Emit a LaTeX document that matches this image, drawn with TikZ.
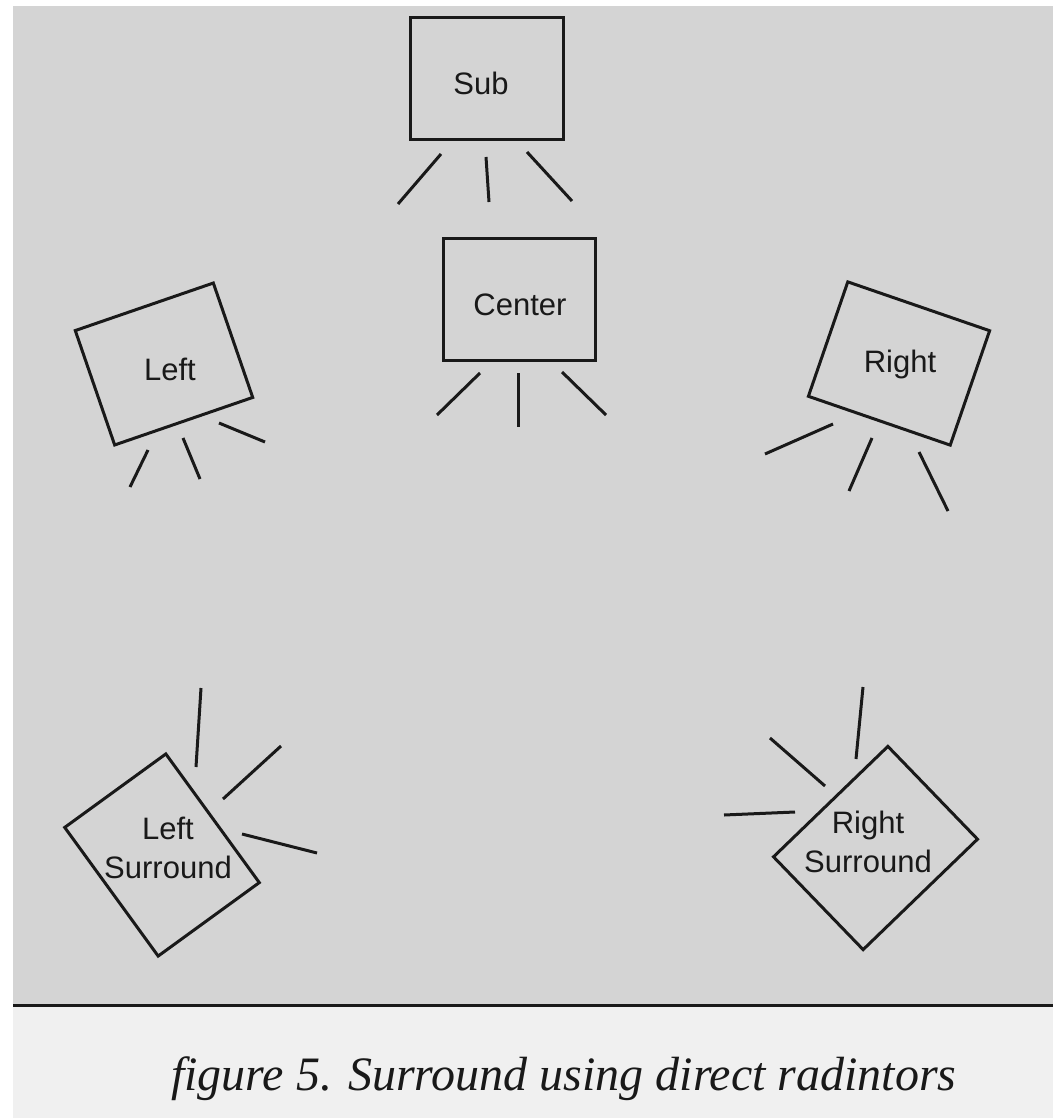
\documentclass[tikz,border=0pt]{standalone}
\usepackage{fontspec}
\setmainfont{Liberation Serif}
\newfontfamily\labelfont{Liberation Sans}
\definecolor{pagegrey}{gray}{0.83}
\definecolor{pagelight}{gray}{0.94}
\definecolor{ink}{gray}{0.1}
\tikzset{
  spk/.style={draw=ink, line width=3pt, inner sep=0pt, rectangle},
  ray/.style={draw=ink, line width=3pt},
  lbl/.style={font=\labelfont\fontsize{31}{39}\selectfont, text=ink, inner sep=0pt, anchor=base, align=center},
}
\begin{document}
\begin{tikzpicture}[x=1pt,y=-1pt]
\useasboundingbox (0,0) rectangle (1053,1118);
\fill[white] (0,0) rectangle (1053,1118);
\fill[pagegrey] (13,6) rectangle (1053,1005);
\fill[pagelight] (13,1005) rectangle (1053,1118);
\draw[ink, line width=3pt] (13,1005) -- (1053,1005);

% Sub
\node[spk, minimum width=153pt, minimum height=122pt] (sub) at (486.5,79) {};
\node[lbl] (subT) at (481,95) {Sub};
\draw[ray] (441,154) -- (398,204);
\draw[ray] (486,157) -- (489,202);
\draw[ray] (527,152) -- (572,201);

% Center
\node[spk, minimum width=152pt, minimum height=122pt] (center) at (519,299) {};
\node[lbl] (centerT) at (520,315) {Center};
\draw[ray] (480,373) -- (437,415);
\draw[ray] (518,373) -- (518,427);
\draw[ray] (562,372) -- (606,415);

% Left
\node[spk, minimum width=146pt, minimum height=121pt, rotate=19] (left) at (164,364) {};
\node[lbl] (leftT) at (170,380) {Left};
\draw[ray] (148,450) -- (130,487);
\draw[ray] (183,438) -- (200,479);
\draw[ray] (219,423) -- (265,442);

% Right
\node[spk, minimum width=150pt, minimum height=121pt, rotate=-19] (right) at (899,363.5) {};
\node[lbl] (rightT) at (900,372) {Right};
\draw[ray] (833,424) -- (765,454);
\draw[ray] (872,438) -- (849,491);
\draw[ray] (919,452) -- (948,511);

% Left Surround
\node[spk, minimum width=125pt, minimum height=159pt, rotate=36] (ls) at (162,855) {};
\node[lbl] (lsT) at (168,878) {Left\\Surround};
\draw[ray] (201,688) -- (196,767);
\draw[ray] (281,746) -- (223,799);
\draw[ray] (242,834) -- (317,853);

% Right Surround
\node[spk, minimum width=159pt, minimum height=129pt, rotate=44] (rs) at (875.5,848) {};
\node[lbl] (rsT) at (868,872) {Right\\Surround};
\draw[ray] (863,687) -- (856,759);
\draw[ray] (770,738) -- (825,786);
\draw[ray] (724,815) -- (795,812);

% caption
\node[anchor=base west, inner sep=0pt, text=ink, font=\fontsize{48}{56}\selectfont\itshape] (cap) at (171,1090) {figure 5. Surround using direct radintors};
\end{tikzpicture}
\end{document}
